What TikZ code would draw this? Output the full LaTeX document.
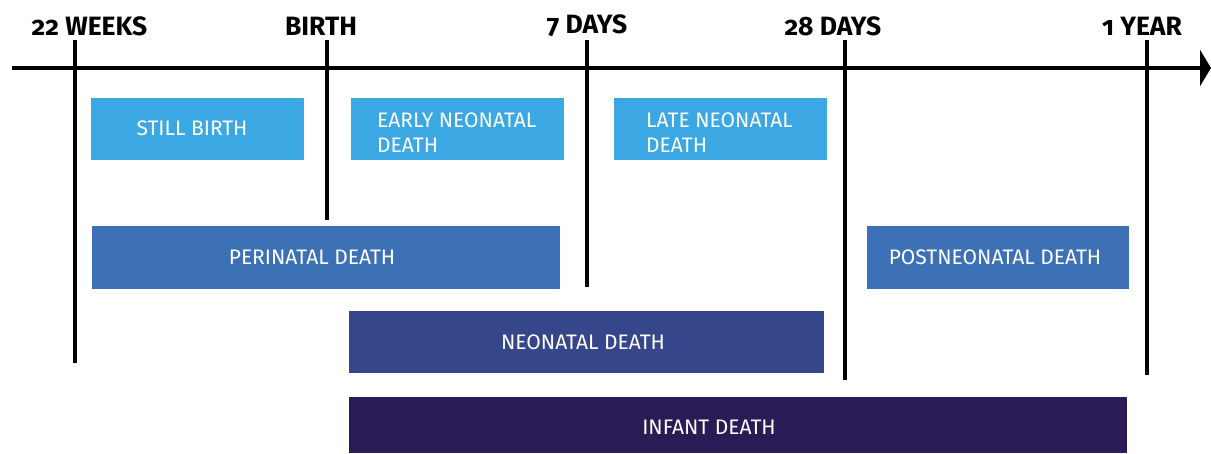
\documentclass[tikz,border=0pt]{standalone}
\usepackage{fontspec}
\setmainfont{Fira Sans}
\newfontfamily\labfont{Fira Sans}[Numbers=OldStyle]
\usetikzlibrary{arrows.meta}
\definecolor{lightb}{HTML}{3BA7E3}
\definecolor{midb}{HTML}{3D71B5}
\definecolor{navyb}{HTML}{36468A}
\definecolor{darkb}{HTML}{2A1B57}
\begin{document}
\begin{tikzpicture}[x=1pt,y=-1pt,
  boxtext/.style={text=white,font=\fontsize{21}{25}\selectfont,inner sep=0pt},
  ticklabel/.style={font=\labfont\bfseries\fontsize{26.5}{26.5}\selectfont,inner sep=0pt},
  tick/.style={line width=4.5pt},
  axisline/.style={line width=4.5pt,-{Triangle[length=11pt,width=36pt]}}]
\useasboundingbox (0,0) rectangle (1211,453);
% axis
\coordinate (axL) at (12,68);
\coordinate (axR) at (1211,68);
\draw[axisline] (axL) -- (axR);
% ticks
\coordinate (t1a) at (75,40);   \coordinate (t1b) at (75,363);
\coordinate (t2a) at (327,40);  \coordinate (t2b) at (327,220);
\coordinate (t3a) at (587,40);  \coordinate (t3b) at (587,287);
\coordinate (t4a) at (845,40);  \coordinate (t4b) at (845,380);
\coordinate (t5a) at (1147,40); \coordinate (t5b) at (1147,375);
\draw[tick] (t1a) -- (t1b);
\draw[tick] (t2a) -- (t2b);
\draw[tick] (t3a) -- (t3b);
\draw[tick] (t4a) -- (t4b);
\draw[tick] (t5a) -- (t5b);
% tick labels
\node[ticklabel] (l1) at (89.5,26) {22 WEEKS};
\node[ticklabel] (l2) at (321,26) {BIRTH};
\node[ticklabel] (l3) at (587,26) {7 DAYS};
\node[ticklabel] (l4) at (833,26) {28 DAYS};
\node[ticklabel] (l5) at (1142,26) {1 YEAR};
% boxes
\fill[lightb] (91,98) rectangle (304,160);
\fill[lightb] (351,98) rectangle (564,160);
\fill[lightb] (614,98) rectangle (827,160);
\fill[midb] (92,226) rectangle (560,289);
\fill[midb] (867,226) rectangle (1129,289);
\fill[navyb] (349,311) rectangle (824,373);
\fill[darkb] (349,397) rectangle (1127,453);
% box texts
\node[boxtext] (still) at (192,128) {STILL BIRTH};
\node[boxtext,align=left,anchor=west] (early) at (377,132.5) {EARLY NEONATAL\\DEATH};
\node[boxtext,align=left,anchor=west] (late) at (646,132.5) {LATE NEONATAL\\DEATH};
\node[boxtext] (peri) at (312,257) {PERINATAL DEATH};
\node[boxtext] (post) at (995,257) {POSTNEONATAL DEATH};
\node[boxtext] (neo) at (583,342) {NEONATAL DEATH};
\node[boxtext] (inf) at (709,427) {INFANT DEATH};
\end{tikzpicture}
\end{document}
